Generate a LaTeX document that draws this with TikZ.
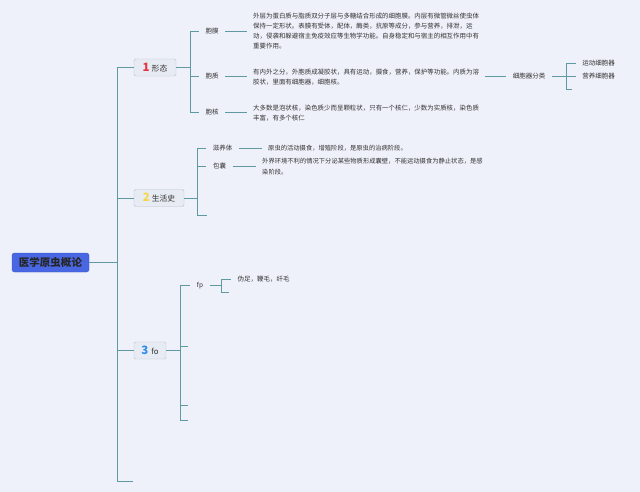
\documentclass[tikz,border=0pt]{standalone}
\usepackage{fontspec}
\setmainfont{Noto Sans CJK SC}
\definecolor{bg}{HTML}{EEF1FA}
\definecolor{lnc}{HTML}{5E9AA0}
\definecolor{txt}{HTML}{333333}
\definecolor{boxf}{HTML}{E7EBF3}
\definecolor{boxd}{HTML}{B9C1CC}
\definecolor{rootc}{HTML}{4A67E3}
\definecolor{rootd}{HTML}{3A55C8}
\definecolor{nred}{HTML}{E8323C}
\definecolor{nyel}{HTML}{F6D548}
\definecolor{nblu}{HTML}{2E8BE6}
\tikzset{
  ln/.style={draw=lnc, line width=0.8pt},
  lbl/.style={font=\fontsize{6.5}{7}\selectfont, text=txt, inner xsep=6.5pt, inner ysep=1pt},
  desc/.style={font=\fontsize{6.45}{10}\selectfont, text=txt, align=left, inner xsep=6pt, inner ysep=0pt, anchor=west},
  descb/.style={desc, font=\fontsize{6.3}{10.5}\selectfont},
  topic/.style={draw=boxd, fill=boxf, rounded corners=1.5pt, inner sep=0pt, minimum height=17pt, font=\fontsize{7.8}{9}\selectfont, text=txt},
  rootbox/.style={draw=rootd, fill=rootc, rounded corners=2.5pt, inner sep=0pt, minimum width=77pt, minimum height=19pt, font=\fontsize{10.5}{11}\selectfont\bfseries, text=black!85}
}
\begin{document}
\begin{tikzpicture}[x=1pt,y=-1pt]
\fill[bg] (0,0) rectangle (640,492);
\useasboundingbox (0,0) rectangle (640,492);

% root and trunk
\node[rootbox] (root) at (50.5,262.5) {医学原虫概论};
\coordinate (tr) at (117,262.5);
\coordinate (t1) at (117,67.5);
\coordinate (t2) at (117,198);
\coordinate (t3) at (117,350.5);
\coordinate (tb) at (117,481);
\coordinate (tbe) at (133,481);

\node[topic, minimum width=42pt] (b1) at (155,67.5) {\textcolor{nred}{\fontsize{11.5}{11}\selectfont\bfseries 1}\hspace{2pt}形态};
\node[topic, minimum width=50pt] (b2) at (159,198) {\textcolor{nyel}{\fontsize{11.5}{11}\selectfont\bfseries 2}\hspace{2pt}生活史};
\node[topic, minimum width=32pt] (b3) at (150,350.5) {\textcolor{nblu}{\fontsize{11.5}{11}\selectfont\bfseries 3}\hspace{3pt}fo};

\draw[ln] (root.east) -- (tr);
\draw[ln] (t1) -- (tb) -- (tbe);
\draw[ln] (t1) -- (b1.west);
\draw[ln] (t2) -- (b2.west);
\draw[ln] (t3) -- (b3.west);

% branch 1
\coordinate (k1) at (190,67.5);
\coordinate (k1a) at (190,31);
\coordinate (k1b) at (190,76.5);
\coordinate (k1c) at (190,112.5);
\node[lbl, anchor=west] (mo) at (199,31) {胞膜};
\node[lbl, anchor=west] (zh) at (199,76.5) {胞质};
\node[lbl, anchor=west] (he) at (199,112.5) {胞核};
\draw[ln] (b1.east) -- (k1);
\draw[ln] (k1a) -- (k1c);
\draw[ln] (k1a) -- (mo.west);
\draw[ln] (k1b) -- (zh.west);
\draw[ln] (k1c) -- (he.west);

\node[desc] (dmo) at (247,31.5) {外层为蛋白质与脂质双分子层与多糖结合形成的细胞膜。内层有微管微丝使虫体\\保持一定形状。表膜有受体，配体，酶类，抗原等成分，参与营养，排泄，运\\动，侵袭和躲避宿主免疫效应等生物学功能。自身稳定和与宿主的相互作用中有\\重要作用。};
\node[desc] (dzh) at (247,77) {有内外之分，外胞质成凝胶状，具有运动，摄食，营养，保护等功能。内质为溶\\胶状，里面有细胞器，细胞核。};
\node[desc] (dhe) at (247,113) {大多数是泡状核，染色质少而呈颗粒状，只有一个核仁，少数为实质核，染色质\\丰富，有多个核仁};
\draw[ln] (mo.east) -- (mo.east -| dmo.west);
\draw[ln] (zh.east) -- (zh.east -| dzh.west);
\draw[ln] (he.east) -- (he.east -| dhe.west);

% organelle classification
\node[lbl] (cls) at (529,76.5) {细胞器分类};
\draw[ln] (dzh.east |- cls.west) -- (cls.west);
\coordinate (k4) at (566,76.5);
\coordinate (k4a) at (566,63);
\coordinate (k4b) at (566,89);
\coordinate (k4be) at (572,89);
\node[lbl] (yd) at (598.5,63) {运动细胞器};
\node[lbl] (yy) at (598.5,76.5) {营养细胞器};
\draw[ln] (cls.east) -- (k4);
\draw[ln] (k4a) -- (k4b) -- (k4be);
\draw[ln] (k4a) -- (yd.west);
\draw[ln] (k4) -- (yy.west);

% branch 2
\coordinate (k2) at (197,198);
\coordinate (k2a) at (197,148);
\coordinate (k2b) at (197,166.5);
\coordinate (k2c) at (197,215);
\coordinate (k2ce) at (207,215);
\node[lbl] (zy) at (222.5,148) {滋养体};
\node[lbl] (bn) at (219.5,166.5) {包囊};
\draw[ln] (b2.east) -- (k2);
\draw[ln] (k2a) -- (k2c) -- (k2ce);
\draw[ln] (k2a) -- (zy.west);
\draw[ln] (k2b) -- (bn.west);
\node[descb] (dzy) at (262,148) {原虫的活动摄食，增殖阶段，是原虫的治病阶段。};
\node[descb] (dbn) at (256,166.5) {外界环境不利的情况下分泌某些物质形成囊壁，不能运动摄食为静止状态，是感\\染阶段。};
\draw[ln] (zy.east) -- (zy.east -| dzy.west);
\draw[ln] (bn.east) -- (bn.east -| dbn.west);

% branch 3
\coordinate (k3) at (180,350.5);
\coordinate (k3a) at (180,285.5);
\coordinate (k3b) at (180,346);
\coordinate (k3be) at (188,346);
\coordinate (k3c) at (180,405);
\coordinate (k3ce) at (188,405);
\coordinate (k3d) at (180,420);
\coordinate (k3de) at (188,420);
\node[lbl] (fp) at (200,285.5) {fp};
\draw[ln] (b3.east) -- (k3);
\draw[ln] (k3a) -- (k3d) -- (k3de);
\draw[ln] (k3a) -- (fp.west);
\draw[ln] (k3b) -- (k3be);
\draw[ln] (k3c) -- (k3ce);

\coordinate (k5) at (221,285.5);
\coordinate (k5a) at (221,279);
\coordinate (k5b) at (221,292.5);
\coordinate (k5be) at (229,292.5);
\node[lbl, anchor=west] (wm) at (231,279) {伪足，鞭毛，纤毛};
\draw[ln] (fp.east) -- (k5);
\draw[ln] (k5a) -- (k5b) -- (k5be);
\draw[ln] (k5a) -- (wm.west);
\end{tikzpicture}
\end{document}
